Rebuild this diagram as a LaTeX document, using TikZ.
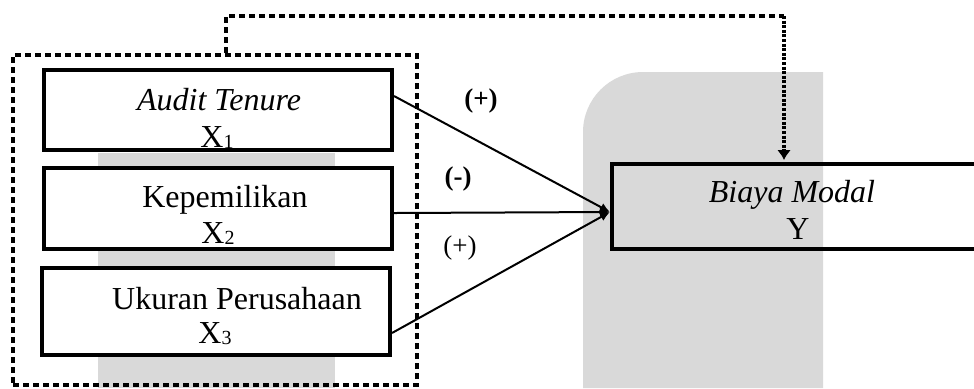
\documentclass[tikz,border=0pt]{standalone}
\usepackage{fontspec}
\setmainfont{Liberation Serif}
\usetikzlibrary{calc}
\usetikzlibrary{arrows.meta}

\begin{document}
\begin{tikzpicture}[x=0.5pt,y=-0.5pt,
    varbox/.style={draw,line width=2pt,inner sep=0pt,minimum width=174pt},
    lbl/.style={anchor=base,inner sep=0pt,font=\fontsize{16}{19}\selectfont},
    sgn/.style={anchor=base,inner sep=0pt,font=\fontsize{13.5}{15}\selectfont},
    wm/.style={fill=black!15},
    link/.style={line width=1pt,-{Latex[length=5pt,width=4.5pt]}},
    dashline/.style={line width=2pt,dash pattern=on 3pt off 2pt},
    dotline/.style={line width=2pt,dash pattern=on 1.5pt off 0.8pt,-{Latex[length=5pt,width=7pt]}}]
\useasboundingbox (0,0) rectangle (974,388);

\newcommand{\idx}[1]{\raisebox{-0.1ex}{\fontsize{10}{12}\selectfont #1}}

% watermark in the background
\fill[wm] (98,153) rectangle (335,388);
\fill[wm] (583,388) -- (583,132) arc (180:270:60) -- (823,72) -- (823,388) -- cycle;

% independent variables
\node[varbox,fill=white,minimum height=40pt] (x1) at (218,110) {};
\node[varbox,fill=white,minimum height=40.5pt] (x2) at (218,208.5) {};
\node[varbox,fill=white,minimum height=43.5pt] (x3) at (216,311.5) {};

\node[lbl] (t1) at (219,110) {\textit{Audit Tenure}};
\node[lbl] (s1) at (217,147) {X\idx{1}};
\node[lbl] (t2) at (225,207) {Kepemilikan};
\node[lbl] (s2) at (218,243) {X\idx{2}};
\node[lbl] (t3) at (237,309) {Ukuran Perusahaan};
\node[lbl] (s3) at (215,343) {X\idx{3}};

% dependent variable
\node[varbox,minimum width=189pt,minimum height=42.5pt] (y) at (801,206.5) {};
\node[lbl] (ty) at (792,202) {\textit{Biaya Modal}};
\node[lbl] (sy) at (798,239) {Y};

% group frame
\node[dashline,draw,inner sep=0pt,minimum width=202pt,minimum height=165pt] (grp) at (215,220) {};

% signs
\node[sgn] (p1) at (481,107) {\textbf{(+)}};
\node[sgn] (p2) at (458,185) {\textbf{(-)}};
\node[sgn] (p3) at (460,254) {(+)};

%\coordinate (hit) at (610,212);
\coordinate (hit) at ($(y.west)+(0,5.5)$);

\draw[link] ($(x1.east)+(0,-14)$) -- (hit);
\draw[link] ($(x2.east)+(0,4.5)$) -- (hit);
\draw[link] ($(x3.east)+(0,21.5)$) -- (hit);

% moderating path
\draw[dashline] ($(grp.north)+(11,0)$) |- (784,16) coordinate (fb);
\draw[dotline] (fb) -- ($(fb |- y.north)+(0,-2)$);
\end{tikzpicture}
\end{document}
